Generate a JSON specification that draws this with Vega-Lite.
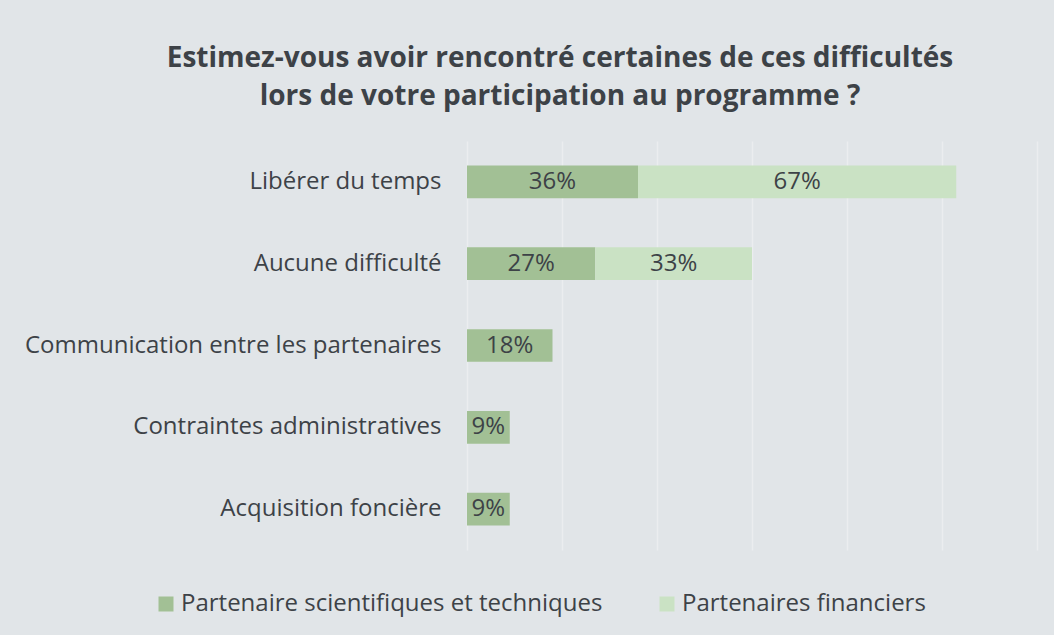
{
  "$schema": "https://vega.github.io/schema/vega-lite/v6.json",
  "autosize": {"type": "none"},
  "width": 570,
  "height": 409,
  "padding": {"left": 467, "top": 141, "right": 17, "bottom": 85},
  "background": "#e1e5e8",
  "title": {
    "text": ["Estimez-vous avoir rencontré certaines de ces difficultés", "lors de votre participation au programme ?"],
    "anchor": "middle",
    "frame": "group",
    "dx": -192,
    "offset": 30,
    "font": "Open Sans",
    "fontSize": 28,
    "fontWeight": "bold",
    "color": "#3d4247",
    "lineHeight": 38
  },
  "data": {
    "values": [
      {"category": "Libérer du temps", "series": "Partenaire scientifiques et techniques", "value": 0.36},
      {"category": "Libérer du temps", "series": "Partenaires financiers", "value": 0.67},
      {"category": "Aucune difficulté", "series": "Partenaire scientifiques et techniques", "value": 0.27},
      {"category": "Aucune difficulté", "series": "Partenaires financiers", "value": 0.33},
      {"category": "Communication entre les partenaires", "series": "Partenaire scientifiques et techniques", "value": 0.18},
      {"category": "Contraintes administratives", "series": "Partenaire scientifiques et techniques", "value": 0.09},
      {"category": "Acquisition foncière", "series": "Partenaire scientifiques et techniques", "value": 0.09}
    ]
  },
  "config": {
    "view": {"stroke": null},
    "font": "Open Sans",
    "axis": {"labelColor": "#3d4247", "labelFont": "Open Sans"}
  },
  "encoding": {
    "y": {
      "field": "category",
      "type": "nominal",
      "sort": null,
      "scale": {"paddingInner": 0.6, "paddingOuter": 0.3},
      "axis": {"title": null, "domain": false, "ticks": false, "labelFontSize": 24, "labelPadding": 26, "labelLimit": 600}
    }
  },
  "layer": [
    {
      "mark": {"type": "bar"},
      "encoding": {
        "x": {
          "field": "value",
          "type": "quantitative",
          "stack": "zero",
          "scale": {"domain": [0, 1.2], "nice": false},
          "axis": {"title": null, "labels": false, "domain": false, "ticks": false, "grid": true, "gridColor": "#ebedef", "gridWidth": 1.5, "values": [0, 0.2, 0.4, 0.6, 0.8, 1.0, 1.2]}
        },
        "color": {
          "field": "series",
          "type": "nominal",
          "scale": {"domain": ["Partenaire scientifiques et techniques", "Partenaires financiers"], "range": ["#a2c095", "#cae2c4"]},
          "legend": {
            "title": null,
            "orient": "none",
            "direction": "horizontal",
            "legendX": -313,
            "legendY": 451,
            "symbolType": "square",
            "symbolSize": 225,
            "symbolStrokeWidth": 0,
            "labelFontSize": 24,
            "labelColor": "#3d4247",
            "labelFont": "Open Sans",
            "labelLimit": 700,
            "columnPadding": 52,
            "labelOffset": 3
          }
        },
        "order": {"field": "series", "sort": "ascending"}
      }
    },
    {
      "transform": [
        {"stack": "value", "groupby": ["category"], "sort": [{"field": "series", "order": "ascending"}], "as": ["v0", "v1"]},
        {"calculate": "(datum.v0 + datum.v1) / 2", "as": "mid"}
      ],
      "mark": {"type": "text", "fontSize": 24, "color": "#3d4247", "font": "Open Sans", "align": "center", "baseline": "middle"},
      "encoding": {
        "x": {"field": "mid", "type": "quantitative"},
        "text": {"field": "value", "type": "quantitative", "format": ".0%"}
      }
    }
  ]
}
